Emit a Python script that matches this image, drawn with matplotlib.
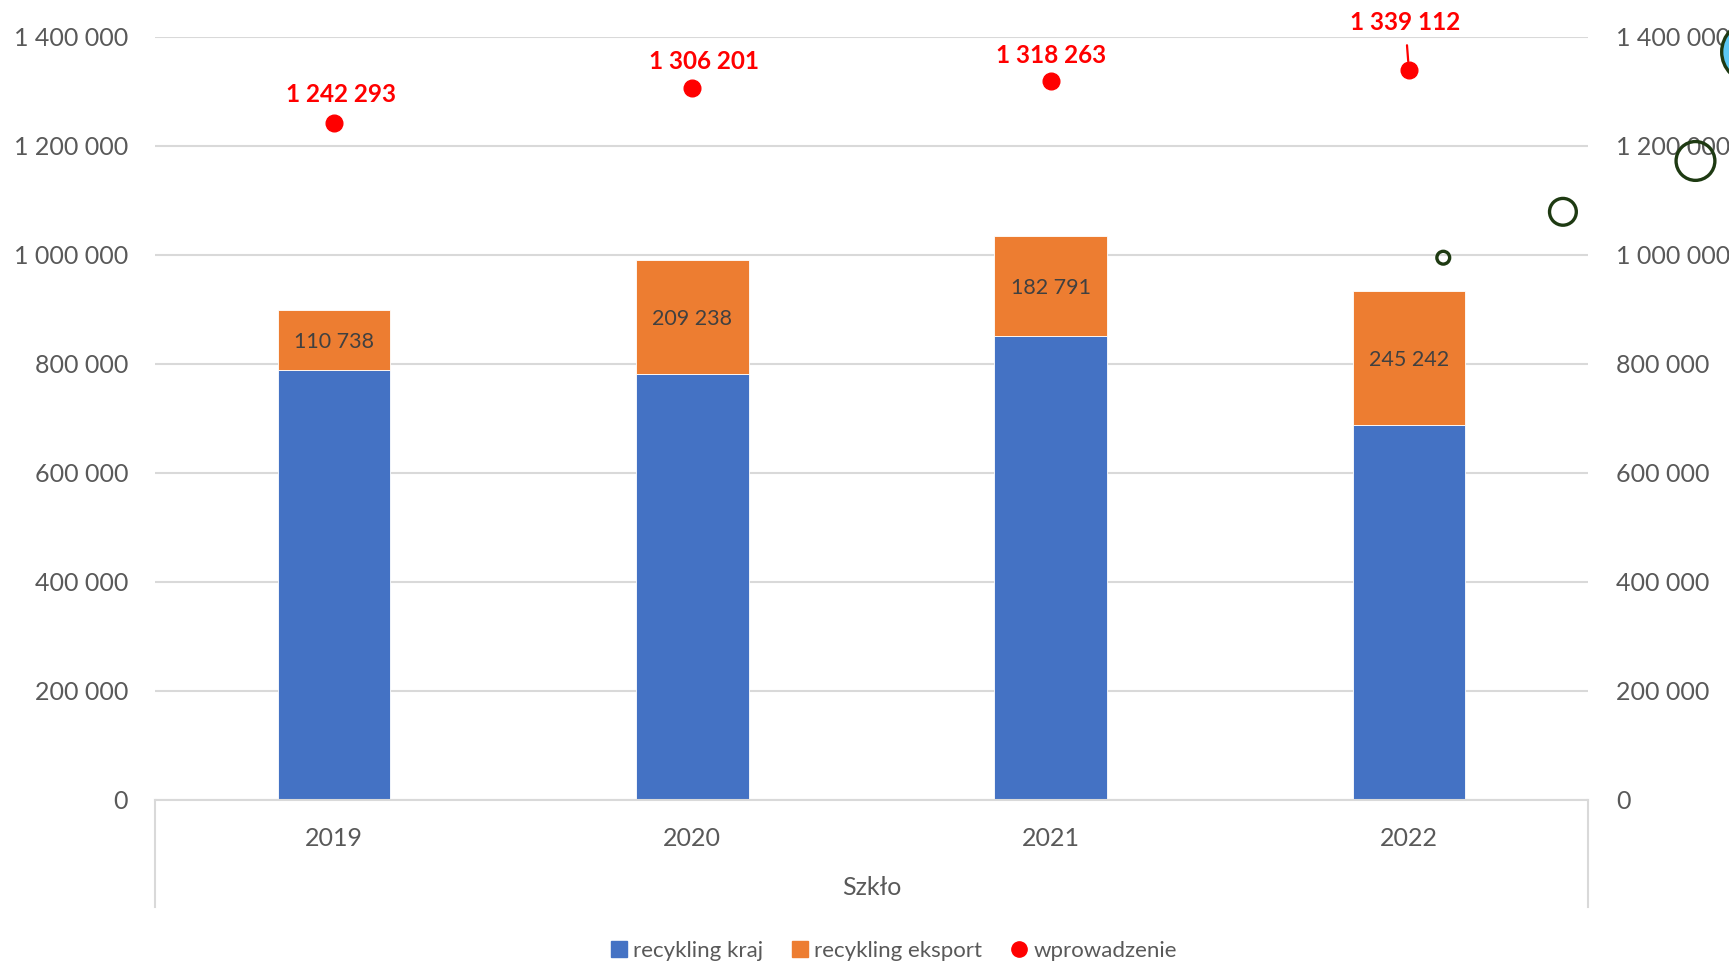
import matplotlib.pyplot as plt
import matplotlib as mpl
from matplotlib.lines import Line2D
from matplotlib.patches import Patch
import numpy as np

years = ["2019", "2020", "2021", "2022"]
recykling_kraj = [787800, 781000, 851500, 688000]
recykling_eksport = [110738, 209238, 182791, 245242]
wprowadzenie = [1242293, 1306201, 1318263, 1339112]
wprowadzenie_labels = ["1 242 293", "1 306 201", "1 318 263", "1 339 112"]
eksport_labels = ["110 738", "209 238", "182 791", "245 242"]

# stray bubbles at the right edge of the original chart
bubble_x = [3.096, 3.43, 3.80, 3.958]
bubble_y = [994500, 1078700, 1172000, 1372000]
bubble_r = [8, 15, 21, 32]  # outer radius in px

yticks = [0, 200000, 400000, 600000, 800000, 1000000, 1200000, 1400000]


def fmt(v):
    return f"{v:,.0f}".replace(",", " ")


def main():
    mpl.rcParams['font.family'] = ['Lato', 'DejaVu Sans']
    gray = '#595959'
    grid = '#D9D9D9'

    fig = plt.figure(figsize=(17.29, 9.63), dpi=100)
    ax = fig.add_axes([155 / 1729, 1 - 799.7 / 963, 1433 / 1729, 763 / 963])
    x = np.arange(len(years))

    ax.bar(x, recykling_kraj, width=0.314, color='#4472C4', edgecolor='white', linewidth=0.6, zorder=2)
    ax.bar(x, recykling_eksport, width=0.314, bottom=recykling_kraj, color='#ED7D31',
           edgecolor='white', linewidth=0.6, zorder=2)
    for i in range(len(years)):
        ax.text(x[i], recykling_kraj[i] + recykling_eksport[i] / 2, eksport_labels[i],
                ha='center', va='center_baseline', fontsize=15.5, color='#404040', zorder=3)

    ax.plot(x, wprowadzenie, 'o', color='#FF0000', markersize=12, linestyle='none', zorder=4, clip_on=False)
    offsets = [(5, 20), (8.6, 18.7), (0, 18.7), (-2.6, 34)]
    for i in range(len(years)):
        kw = {}
        if i == 3:
            kw['arrowprops'] = dict(arrowstyle='-', color='#FF0000', lw=1.6, shrinkA=6, shrinkB=6.3)
        ax.annotate(wprowadzenie_labels[i], xy=(x[i], wprowadzenie[i]), xytext=offsets[i],
                    textcoords='offset points', ha='center', va='center', fontsize=17.5,
                    fontweight='bold', color='#FF0000', annotation_clip=False, **kw)

    ax.set_xlim(-0.5, 3.5)
    ax.set_ylim(0, 1400000)
    ax.set_yticks(yticks)
    ax.set_yticklabels([fmt(v) for v in yticks])
    ax.set_xticks(x)
    ax.set_xticklabels(years)
    ax.tick_params(axis='y', length=0, pad=19.4, labelsize=18, labelcolor=gray)
    ax.tick_params(axis='x', length=0, pad=19.4, labelsize=18, labelcolor=gray)
    ax.grid(axis='y', color=grid, linewidth=1.5)
    ax.set_axisbelow(True)
    for s in ['top', 'left', 'right']:
        ax.spines[s].set_visible(False)
    ax.spines['bottom'].set_color(grid)
    ax.spines['bottom'].set_linewidth(1.5)

    # category axis box lines
    tr = ax.get_xaxis_transform()
    for xv in (-0.5, 3.5):
        ax.plot([xv, xv], [0, -0.1402], transform=tr, color=grid, lw=1.5, clip_on=False)
    ax.text(1.5, -0.1157, "Szkło", transform=tr, ha='center', va='center', fontsize=18, color=gray)

    ax2 = ax.twinx()
    ax2.set_ylim(ax.get_ylim())
    ax2.set_yticks(yticks)
    ax2.set_yticklabels([fmt(v) for v in yticks], ha='left')
    ax2.tick_params(axis='y', length=0, pad=20, labelsize=18, labelcolor=gray)
    for s in ax2.spines.values():
        s.set_visible(False)

    sizes = [(2 * (r - 1.6) * 0.72) ** 2 for r in bubble_r]
    faces = ['none', 'none', 'none', '#5CC9F5']
    ax2.scatter(bubble_x, bubble_y, s=sizes, facecolors=faces, edgecolors='#1E3A12',
                linewidths=2.4, zorder=5, clip_on=False)

    handles = [Patch(color='#4472C4', label='recykling kraj'),
               Patch(color='#ED7D31', label='recykling eksport'),
               Line2D([], [], marker='o', color='#FF0000', linestyle='none', markersize=11,
                      label='wprowadzenie')]
    fig.legend(handles=handles, loc='center', bbox_to_anchor=(894 / 1729, 1 - 951 / 963), ncol=3,
               frameon=False, fontsize=16, labelcolor=gray, handlelength=0.7, handleheight=0.7,
               handletextpad=0.3, columnspacing=1.3)

    fig.savefig('out.png', dpi=100)


if __name__ == "__main__":
    main()
